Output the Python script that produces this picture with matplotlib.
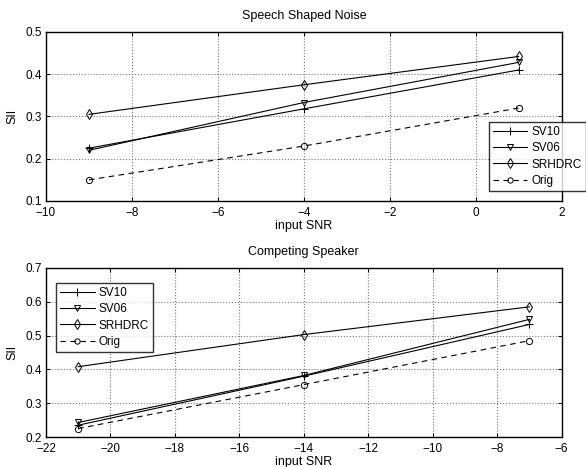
import matplotlib
matplotlib.use("Agg")
import matplotlib.pyplot as plt

plt.rcParams['font.family'] = ['Liberation Sans', 'DejaVu Sans']
plt.rcParams['font.size'] = 8.5

# Speech shaped noise
snr_ssn = [-9, -4, 1]
ssn_sv10 = [0.225, 0.318, 0.410]
ssn_sv06 = [0.220, 0.333, 0.428]
ssn_srhdrc = [0.305, 0.375, 0.442]
ssn_orig = [0.150, 0.230, 0.320]

# Competing speaker
snr_cs = [-21, -14, -7]
cs_sv10 = [0.235, 0.380, 0.533]
cs_sv06 = [0.243, 0.382, 0.548]
cs_srhdrc = [0.408, 0.503, 0.585]
cs_orig = [0.225, 0.355, 0.485]

labels = ['SV10', 'SV06', 'SRHDRC', 'Orig']

fig = plt.figure(figsize=(5.86, 4.67), dpi=100)
ax1 = fig.add_axes([0.0785, 0.5696, 0.880, 0.362])
ax2 = fig.add_axes([0.0785, 0.0642, 0.880, 0.362])


def draw(ax, x, sv10, sv06, srh, orig):
    lw = 0.8
    h = []
    h += ax.plot(x, sv10, '-', color='k', lw=lw, marker='+', ms=6, mew=0.7)
    h += ax.plot(x, sv06, '-', color='k', lw=lw, marker='v', ms=5, mfc='none', mew=0.7)
    h += ax.plot(x, srh, '-', color='k', lw=lw, marker='d', ms=5.5, mfc='none', mew=0.7)
    h += ax.plot(x, orig, '--', color='k', lw=lw, marker='o', ms=4.5, mfc='none', mew=0.7,
                 dashes=(5, 4))
    ax.grid(True, linestyle=':', color='#777777', lw=0.8)
    ax.tick_params(direction='in', top=True, right=True, length=3, width=0.7)
    ax.tick_params(axis='x', pad=4)
    ax.tick_params(axis='y', pad=3)
    for s in ax.spines.values():
        s.set_linewidth(1.0)
    ax.set_ylabel('SII', fontsize=9, labelpad=5)
    ax.set_xlabel('input SNR', fontsize=9, labelpad=1)
    return h


h1 = draw(ax1, snr_ssn, ssn_sv10, ssn_sv06, ssn_srhdrc, ssn_orig)
ax1.set_xlim(-10, 2)
ax1.set_ylim(0.1, 0.5)
ax1.set_xticks(range(-10, 3, 2))
ax1.set_yticks([0.1, 0.2, 0.3, 0.4, 0.5])
ax1.set_title('Speech Shaped Noise', fontsize=9, pad=9)

h2 = draw(ax2, snr_cs, cs_sv10, cs_sv06, cs_srhdrc, cs_orig)
ax2.set_xlim(-22, -6)
ax2.set_ylim(0.2, 0.7)
ax2.set_xticks(range(-22, -5, 2))
ax2.set_yticks([0.2, 0.3, 0.4, 0.5, 0.6, 0.7])
ax2.set_title('Competing Speaker', fontsize=9, pad=9)

leg_kw = dict(fontsize=8.5, frameon=True, fancybox=False, edgecolor='k',
              handlelength=2.9, borderpad=0.36, labelspacing=0.35, handletextpad=0.35,
              borderaxespad=0, markerscale=0.85)
l1 = fig.legend(h1, labels, loc='lower left', bbox_to_anchor=(0.834, 0.591), **leg_kw)
l1.get_frame().set_linewidth(1.0)
l2 = fig.legend(h2, labels, loc='upper left', bbox_to_anchor=(0.0956, 0.394), **leg_kw)
l2.get_frame().set_linewidth(1.0)

fig.savefig('out.png', dpi=100)
